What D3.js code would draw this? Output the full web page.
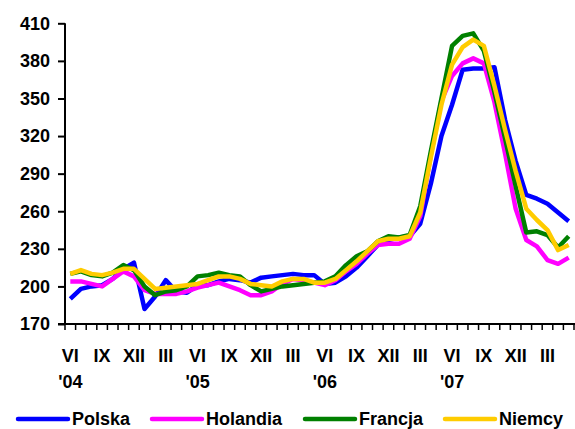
<!DOCTYPE html>
<html><head><meta charset="utf-8">
<script src="https://cdn.jsdelivr.net/npm/d3@7"></script>
<style>body{margin:0;background:#fff}svg{display:block}text{font-family:"Liberation Sans",Arial,sans-serif;font-weight:bold;fill:#000}</style>
</head><body>
<svg id="c" width="575" height="429"></svg>
<script>
const months = ["VI","VII","VIII","IX","X","XI","XII","I","II","III","IV","V",
"VI","VII","VIII","IX","X","XI","XII","I","II","III","IV","V",
"VI","VII","VIII","IX","X","XI","XII","I","II","III","IV","V",
"VI","VII","VIII","IX","X","XI","XII","I","II","III","IV","V"];
const shownMonths = ["VI","IX","XII","III"];
const yearLabels = ["'04","'05","'06","'07"];
const yTicks = [170,200,230,260,290,320,350,380,410];
const seriesNames = ["Polska","Holandia","Francja","Niemcy"];
const seriesColors = ["#0000ff","#ff00ff","#008000","#ffcc00"];
const polska = [190,198,200,201,206,214,219,182,192,205,196,195,201,201,204,206,205,203,207,208,209,210,209,209,202,203,208,215,224,233,237,239,240,250,282,320,345,373,374,374,375,333,300,273,270,266,259,252];
const holandia = [204,204,202,200,206,212,208,197,194,194,194,196,199,201,203,200,197,193,193,196,202,206,205,203,201,205,212,218,226,233,234,234,238,256,305,348,368,378,382,378,347,306,262,237,232,221,218,223];
const francja = [210,212,209,208,211,217,213,200,193,196,197,200,208,209,211,209,208,201,196,198,200,201,202,203,204,208,217,224,228,236,240,239,241,264,308,350,392,400,402,388,355,318,280,243,244,241,231,240];
const niemcy = [210,213,210,209,211,214,214,206,198,199,200,201,202,205,208,208,206,202,201,200,204,206,206,203,203,206,213,220,228,236,238,238,240,259,303,345,377,391,397,392,360,325,292,262,253,245,229,233];
const seriesData = [polska, holandia, francja, niemcy];

const svg = d3.select("#c");
const L = 65, R = 574, T = 23.3, B = 324;
const idx = d3.range(months.length);
const x = d3.scaleBand().domain(idx).range([L, R]).padding(0);
const y = d3.scaleLinear().domain([170, 410]).range([B, T]);

// y axis
const yAxis = d3.axisLeft(y).tickValues(yTicks).tickSize(7).tickPadding(8);
const gy = svg.append("g").attr("transform", `translate(${L},0)`).call(yAxis);
gy.select(".domain").attr("stroke","#000").attr("stroke-width",2).attr("d",`M0,${B}V${T}`);
gy.selectAll(".tick line").attr("stroke","#000").attr("stroke-width",2);
gy.selectAll(".tick text").style("font-size","18px").attr("fill","#000");

// x axis
const xAxis = d3.axisBottom(x).tickSize(0).tickFormat("");
const gx = svg.append("g").attr("transform", `translate(0,${B})`).call(xAxis);
gx.select(".domain").attr("stroke","#000").attr("stroke-width",2).attr("d",`M${L-7},0H${R+1}`);
gx.selectAll(".tick").remove();
const bounds = d3.range(months.length + 1).map(i => L + i * x.bandwidth());
gx.selectAll("line.mt").data(bounds).join("line").attr("class","mt")
  .attr("x1", d => d).attr("x2", d => d).attr("y1", 0).attr("y2", 6)
  .attr("stroke","#000").attr("stroke-width",1.5);

// month labels
svg.append("g").selectAll("text").data(idx.filter(i => shownMonths.includes(months[i])))
  .join("text").attr("x", i => x(i) + x.bandwidth()/2).attr("y", 362)
  .attr("text-anchor","middle").style("font-size","18px").text(i => months[i]);
// year labels
const vis = idx.filter(i => months[i] === "VI");
svg.append("g").selectAll("text").data(yearLabels)
  .join("text").attr("x", (d, k) => x(vis[k]) + x.bandwidth()/2).attr("y", 388)
  .attr("text-anchor","middle").style("font-size","18px").text(d => d);

// lines
const line = d3.line().x((d, i) => x(i) + x.bandwidth()/2).y(d => y(d));
svg.append("g").selectAll("path").data(seriesData).join("path")
  .attr("d", line).attr("fill","none")
  .attr("stroke", (d, k) => seriesColors[k]).attr("stroke-width", 4.5)
  .attr("stroke-linejoin","round").attr("stroke-linecap","butt");

// legend
const legX = [18, 152, 305, 445];
const lg = svg.append("g");
seriesNames.forEach((n, k) => {
  lg.append("line").attr("x1", legX[k]).attr("x2", legX[k] + 50).attr("y1", 419).attr("y2", 419)
    .attr("stroke", seriesColors[k]).attr("stroke-width", 4.5).attr("stroke-linecap","round");
  lg.append("text").attr("x", legX[k] + 54).attr("y", 425).style("font-size","18px").text(n);
});
</script>
</body></html>
